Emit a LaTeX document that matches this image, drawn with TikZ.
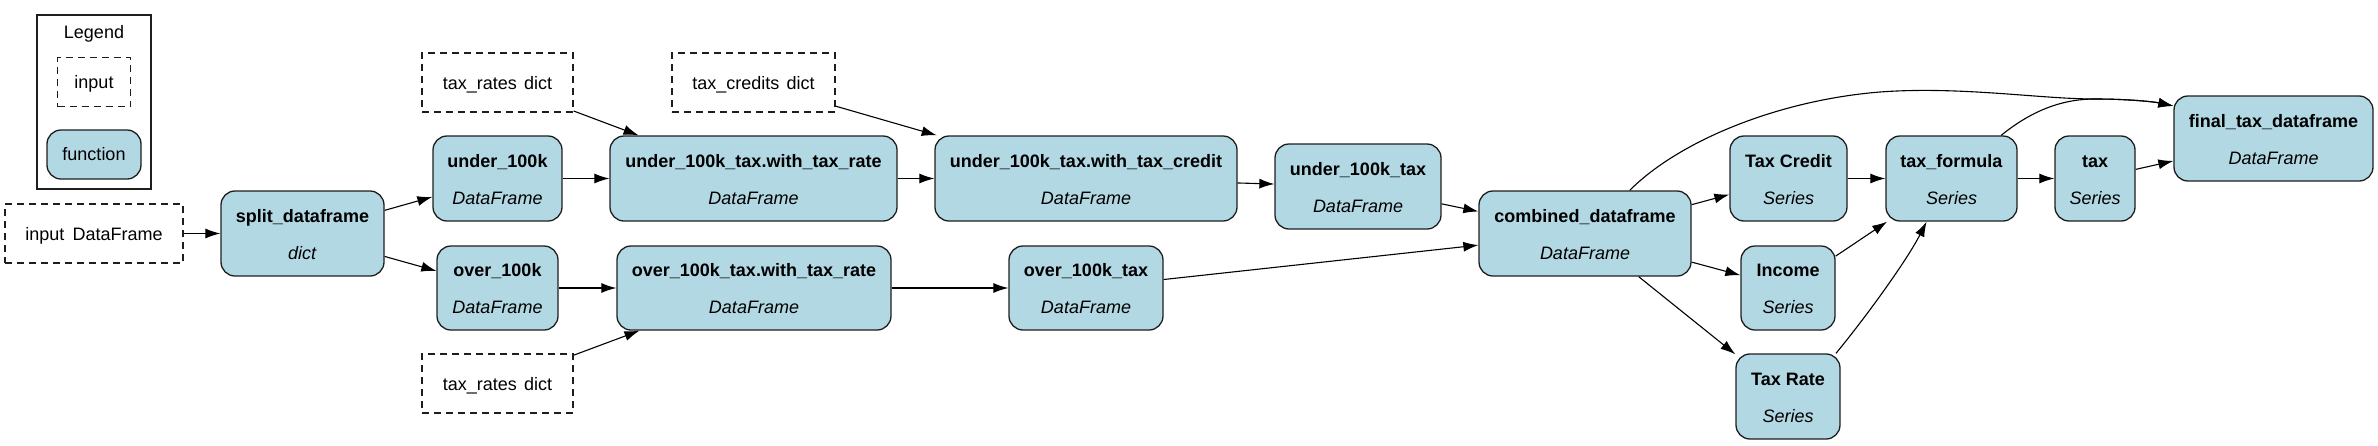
\documentclass[tikz,border=0pt]{standalone}
\usepackage{fontspec}
\setmainfont{Liberation Sans}
\usetikzlibrary{arrows.meta,calc}
\definecolor{fnfill}{HTML}{B2D8E4}
\definecolor{bordercol}{HTML}{1E1E1E}
\newcommand{\fnlbl}[2]{\rule{0pt}{16pt}\textbf{#1}\\[15pt]\textit{#2}\rule[-2pt]{0pt}{2pt}}
\tikzset{
  basefont/.style={font=\fontsize{18}{22}\selectfont},
  fn/.style={basefont, draw=bordercol, line width=1.3pt, fill=fnfill, rounded corners=14pt, align=center, inner sep=0pt},
  inp/.style={basefont, draw=bordercol, line width=1.2pt, dash pattern=on 7pt off 5pt, inner sep=0pt, text height=13pt, text depth=0pt},
  plaintext/.style={basefont, inner sep=0pt, text height=13pt, text depth=0pt},
  legendbox/.style={draw=bordercol, line width=1.2pt, inner sep=0pt},
  edge/.style={draw=black, line width=1.1pt, -{Latex[length=15pt,width=10pt]}}
}
\begin{document}
\begin{tikzpicture}[x=1pt,y=-1pt]
\useasboundingbox (0,0) rectangle (2378,445);
% legend
\node[legendbox, minimum width=114pt, minimum height=174pt] (legend) at (94,102) {};
\node[plaintext] (legtitle) at (94,31.5) {Legend};
\node[inp, minimum width=73pt, minimum height=49pt] (leginp) at (94,82) {input};
\node[fn, minimum width=94pt, minimum height=49pt] (legfn) at (94,154.5) {function};
% inputs
\node[inp, minimum width=178pt, minimum height=59pt] (inputdf) at (94,233.5) {input\hspace{0.45em}DataFrame};
\node[inp, minimum width=151pt, minimum height=59pt] (trTop) at (497.5,82.5) {tax\_rates\hspace{0.4em}dict};
\node[inp, minimum width=151pt, minimum height=59pt] (trBot) at (497.5,383.5) {tax\_rates\hspace{0.4em}dict};
\node[inp, minimum width=163pt, minimum height=59pt] (tcred) at (753.5,82.5) {tax\_credits\hspace{0.4em}dict};
% functions
\node[fn, minimum width=163pt, minimum height=85pt] (split) at (302.5,233.5) {\fnlbl{split\_dataframe}{dict}};
\node[fn, minimum width=129pt, minimum height=85pt] (u100k) at (497.5,178.5) {\fnlbl{under\_100k}{DataFrame}};
\node[fn, minimum width=121pt, minimum height=84pt] (o100k) at (497.5,288) {\fnlbl{over\_100k}{DataFrame}};
\node[fn, minimum width=287pt, minimum height=85pt] (uwr) at (753.5,178.5) {\fnlbl{under\_100k\_tax.with\_tax\_rate}{DataFrame}};
\node[fn, minimum width=302pt, minimum height=85pt] (uwc) at (1086,178.5) {\fnlbl{under\_100k\_tax.with\_tax\_credit}{DataFrame}};
\node[fn, minimum width=274pt, minimum height=84pt] (owr) at (754,288) {\fnlbl{over\_100k\_tax.with\_tax\_rate}{DataFrame}};
\node[fn, minimum width=154pt, minimum height=84pt] (o100t) at (1086,288) {\fnlbl{over\_100k\_tax}{DataFrame}};
\node[fn, minimum width=166pt, minimum height=85pt] (u100t) at (1358,186.5) {\fnlbl{under\_100k\_tax}{DataFrame}};
\node[fn, minimum width=212pt, minimum height=85pt] (comb) at (1585,233.5) {\fnlbl{combined\_dataframe}{DataFrame}};
\node[fn, minimum width=117pt, minimum height=85pt] (tcr) at (1788.5,178.5) {\fnlbl{Tax Credit}{Series}};
\node[fn, minimum width=94pt, minimum height=84pt] (inc) at (1788,288) {\fnlbl{Income}{Series}};
\node[fn, minimum width=104pt, minimum height=85pt] (trate) at (1788,396.5) {\fnlbl{Tax Rate}{Series}};
\node[fn, minimum width=131pt, minimum height=85pt] (tf) at (1951.5,178.5) {\fnlbl{tax\_formula}{Series}};
\node[fn, minimum width=80pt, minimum height=85pt] (tax) at (2095,178.5) {\fnlbl{tax}{Series}};
\node[fn, minimum width=199pt, minimum height=85pt] (final) at (2273.5,138.5) {\fnlbl{final\_tax\_dataframe}{DataFrame}};
% edges
\draw[edge] (inputdf) -- (split);
\draw[edge] (split) -- (u100k);
\draw[edge] (split) -- (o100k);
\draw[edge] (u100k) -- (uwr);
\draw[edge] (trTop) -- (uwr);
\draw[edge] (o100k) -- (owr);
\draw[edge] (trBot) -- (owr);
\draw[edge] (uwr) -- (uwc);
\draw[edge] (tcred) -- (uwc);
\draw[edge] (uwc) -- (u100t);
\draw[edge] (owr) -- (o100t);
\draw[edge] (u100t) -- (comb);
\draw[edge] (o100t) -- (comb);
\draw[edge] (comb) -- (tcr);
\draw[edge] (comb) -- (inc);
\draw[edge] (comb) -- (trate);
\draw[edge] (tcr) -- (tf);
\draw[edge] (inc) -- (tf);
\draw[edge] (trate.42) .. controls (1864,319.5) and (1906.6,261) .. (tf.-120);
\draw[edge] (tf) -- (tax);
\draw[edge] (tax) -- (final);
\draw[edge] (comb.44) .. controls (1680,140) and (1780,100) .. (1880,92) .. controls (1960,86) and (2040,99) .. (2095,99) .. controls (2130,99) and (2155,102) .. (final.162);
\draw[edge] (tf.41) .. controls (2030,112) and (2060,99) .. (2095,99) .. controls (2130,99) and (2155,102) .. (final.162);
\end{tikzpicture}
\end{document}
